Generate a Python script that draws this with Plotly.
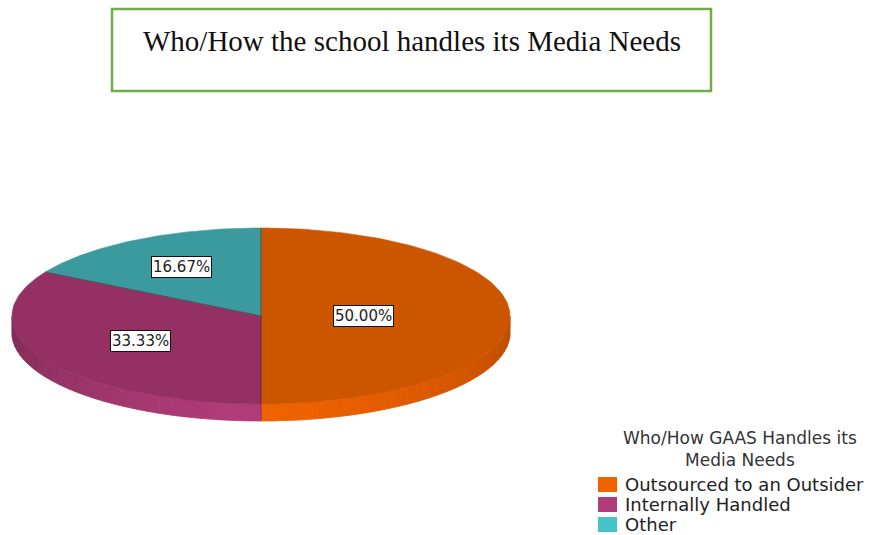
import numpy as np
import plotly.graph_objects as go

# ---- data ----
categories = ["Outsourced to an Outsider", "Internally Handled", "Other"]
values = [50.00, 33.33, 16.67]
pct_labels = ["50.00%", "33.33%", "16.67%"]
chart_title = "Who/How the school handles its Media Needs"
legend_title_lines = ["Who/How GAAS Handles its", "Media Needs"]

# ---- style ----
top_colors = ["#CC5500", "#943063", "#3A9A9E"]
side_light = ["#F06200", "#B23C7A", "#47C6C8"]
side_dark = ["#B84A00", "#7C2953", "#2E7F82"]
legend_colors = ["#F06400", "#B13C7A", "#45C3C6"]
label_frac = [0.41, 0.56, 0.64]

W, H = 884, 535
cx, cy, rx, ry, depth = 261, 316, 249, 88, 17

fig = go.Figure()


def pt(theta_deg, f=1.0):
    t = np.radians(theta_deg)
    return cx + rx * f * np.sin(t), cy - ry * f * np.cos(t)


def hex2rgb(h):
    h = h.lstrip("#")
    return np.array([int(h[i:i + 2], 16) for i in (0, 2, 4)], dtype=float)


def mix(c1, c2, a):
    r = hex2rgb(c1) * (1 - a) + hex2rgb(c2) * a
    return "rgb(%d,%d,%d)" % tuple(r.round())


total = sum(values)
starts = np.cumsum([0] + values[:-1]) / total * 360
ends = np.cumsum(values) / total * 360

# side walls (visible front half: theta 90..270)
for i in range(len(values)):
    a0, a1 = max(starts[i], 90), min(ends[i], 270)
    if a1 <= a0:
        continue
    n = 30
    edges = np.linspace(a0, a1, n + 1)
    for k in range(n):
        t0, t1 = edges[k], edges[k + 1]
        tm = (t0 + t1) / 2
        a = min(1.0, abs(tm - 180) / 90) ** 1.3
        col = mix(side_light[i], side_dark[i], a)
        ts = np.linspace(t0, t1, 4)
        xs_top, ys_top = pt(ts)
        xs = list(xs_top) + list(xs_top[::-1])
        ys = list(ys_top) + list((ys_top + depth)[::-1])
        fig.add_trace(go.Scatter(x=xs + [xs[0]], y=ys + [ys[0]], mode="lines",
                                 fill="toself", fillcolor=col,
                                 line=dict(width=0.8, color=col),
                                 hoverinfo="skip", showlegend=False))

# top faces
for i in range(len(values)):
    ts = np.linspace(starts[i], ends[i], 120)
    xs, ys = pt(ts)
    xs = [cx] + list(xs) + [cx]
    ys = [cy] + list(ys) + [cy]
    fig.add_trace(go.Scatter(x=xs, y=ys, mode="lines", fill="toself",
                             fillcolor=top_colors[i],
                             line=dict(width=0.6, color=top_colors[i]),
                             name=categories[i], showlegend=False,
                             hoverinfo="name"))

# slice divider lines on top face
for i in range(len(values)):
    x1, y1 = pt(starts[i])
    fig.add_trace(go.Scatter(x=[cx, x1], y=[cy, y1], mode="lines",
                             line=dict(width=1, color="rgba(90,30,40,0.55)"),
                             hoverinfo="skip", showlegend=False))
# front vertical edge between side walls
for i in range(len(values)):
    if 90 < starts[i] < 270:
        x1, y1 = pt(starts[i])
        fig.add_trace(go.Scatter(x=[x1, x1], y=[y1, y1 + depth], mode="lines",
                                 line=dict(width=1, color="rgba(90,30,40,0.35)"),
                                 hoverinfo="skip", showlegend=False))

annotations = []
# percentage labels
for i in range(len(values)):
    mid = (starts[i] + ends[i]) / 2
    lx, ly = pt(mid, label_frac[i])
    annotations.append(dict(x=lx, y=ly, xref="x", yref="y", text=pct_labels[i],
                            showarrow=False, bgcolor="white", bordercolor="#111",
                            borderwidth=1, borderpad=1,
                            font=dict(family="DejaVu Sans", size=15, color="#222")))

# title box
annotations.append(dict(x=412, y=41, xref="x", yref="y", text=chart_title,
                        showarrow=False,
                        font=dict(family="Liberation Serif", size=29, color="#111")))

# legend
annotations.append(dict(x=740, y=449, xref="x", yref="y",
                        text="<br>".join(legend_title_lines),
                        showarrow=False, align="center",
                        font=dict(family="DejaVu Sans", size=17, color="#333")))
shapes = [dict(type="rect", xref="x", yref="y", x0=112, x1=711, y0=9, y1=91,
               line=dict(color="#70AD47", width=2.5), fillcolor="rgba(0,0,0,0)")]
for i, cat in enumerate(categories):
    yc = 485 + i * 20
    shapes.append(dict(type="rect", xref="x", yref="y", x0=598, x1=617,
                       y0=yc - 8, y1=yc + 7, fillcolor=legend_colors[i],
                       line=dict(width=0)))
    annotations.append(dict(x=623, y=yc - 0.5, xref="x", yref="y", text=cat,
                            xanchor="left", showarrow=False,
                            font=dict(family="DejaVu Sans", size=18, color="#222")))

fig.update_layout(
    width=W, height=H,
    margin=dict(l=0, r=0, t=0, b=0),
    paper_bgcolor="white", plot_bgcolor="white",
    xaxis=dict(range=[0, W], visible=False, fixedrange=True),
    yaxis=dict(range=[H, 0], visible=False, fixedrange=True),
    shapes=shapes, annotations=annotations,
    showlegend=False,
)

fig.write_html("out.html")
